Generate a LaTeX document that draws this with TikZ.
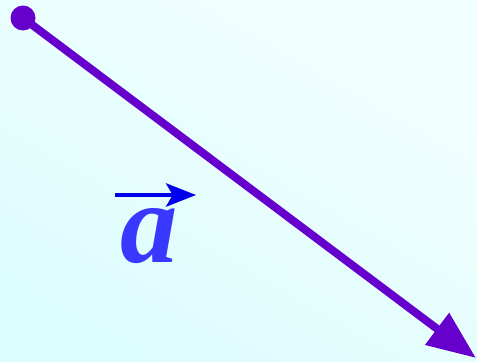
\documentclass[tikz,border=0pt]{standalone}
\usepackage{fontspec}
\setmainfont{Liberation Serif}
\usetikzlibrary{arrows.meta}
\definecolor{vecpurple}{HTML}{6600CC}
\definecolor{labblue}{HTML}{3838FF}
\definecolor{arrblue}{HTML}{0000EE}
\definecolor{bgtop}{HTML}{F2FFFF}
\definecolor{bgbot}{HTML}{DDFCFC}
\begin{document}
\begin{tikzpicture}[x=0.03cm,y=-0.03cm]
  % background
  \shade[bottom color=bgbot,top color=bgtop,shading angle=-30] (0,0) rectangle (477,361);
  \useasboundingbox (0,0) rectangle (477,361);
  %
  \coordinate (tail) at (23,18);
  \coordinate (head) at (476,358);
  \draw[vecpurple,line width=6.8pt,-{Triangle[length=1.46cm,width=1.14cm]}] (tail) -- (head);
  \fill[vecpurple] (tail) circle (12.5);
  %
  \node[labblue,inner sep=0pt] (lab) at (149,236) {\fontsize{98}{98}\selectfont\textbf{\textit{a}}};
  \coordinate (la) at (115,195);
  \coordinate (lb) at (196,195);
  \draw[arrblue,line width=3.2pt,-{Stealth[length=0.9cm,width=0.7cm,inset=0.2cm]}] (la) -- (lb);
\end{tikzpicture}
\end{document}
